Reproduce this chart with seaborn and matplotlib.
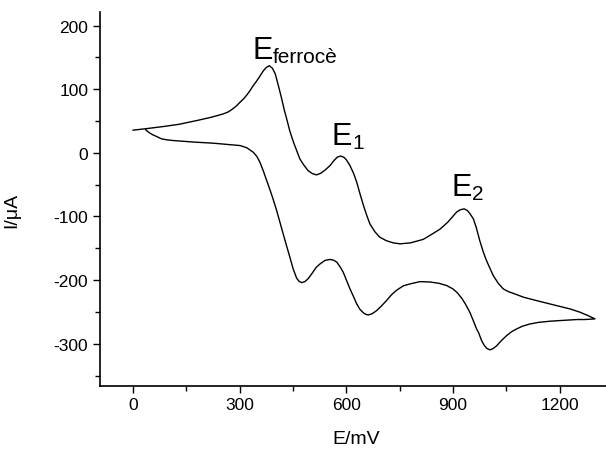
import pandas as pd
import seaborn as sns
import matplotlib.pyplot as plt
from matplotlib.ticker import MultipleLocator

# forward scan (E increasing)
fwd_E = [0, 36, 85, 130, 179, 220, 254, 268, 280, 291, 301, 311, 320, 329, 338, 345, 355, 365,
         374, 383, 392, 400, 409, 418, 425, 432, 441, 451, 460, 469, 480, 492, 504, 516, 528,
         540, 554, 565, 575, 584, 593, 600, 610, 620, 629, 638, 648, 657, 666, 680, 694,
         712, 732, 751, 780, 816, 840, 863, 885, 901, 910, 920, 931, 940, 948, 957, 965,
         975, 985, 993, 1000, 1013, 1027, 1041, 1055, 1070, 1098, 1140, 1191, 1230, 1257,
         1280, 1299]
fwd_I = [35.7, 38, 41.4, 45, 50.8, 56, 61.3, 64.5, 69, 74, 79.7, 85, 91, 98, 105.8, 111, 119, 128,
         134, 137, 133, 124, 105, 85, 68, 53.5, 34, 17, 4, -9.4, -19, -27.8, -32.5, -34.6, -32,
         -27, -20, -12, -6.5, -5, -7, -11, -20, -32, -46, -64, -82.8, -98, -111.6, -124, -132.6,
         -138, -141.5, -143, -141.5, -136, -128, -120, -109, -98.6, -93, -89.5, -88, -90.5, -96, -103.8, -117,
         -138, -156, -168, -177, -193, -205, -213.8, -218, -221, -226.9, -233, -240, -245.5, -250.5,
         -256, -261]

# reverse scan (E decreasing)
rev_E = [1299, 1270, 1248, 1210, 1173, 1140, 1116, 1095, 1079, 1065, 1051, 1036, 1023, 1013,
         1004, 995, 988, 980, 972, 966, 957, 947, 935, 925, 912, 900, 882, 860, 835, 807,
         779, 760, 741, 727, 713, 698, 685, 672, 662, 655, 648, 638, 629, 620, 610, 600,
         591, 582, 573, 565, 554, 540, 526, 515, 504, 492, 483, 474, 467, 460, 450, 441,
         427, 413, 404, 394, 385, 376, 366, 357, 348, 338, 320, 301, 260, 226, 170, 113,
         95, 80, 67, 57, 46, 36]
rev_I = [-261, -262, -262, -263.3, -264.6, -266.5, -269, -272.5, -276.7, -281, -287, -295, -303, -307.5,
         -309.7, -307.5, -303, -295, -283, -276.7, -264, -250.5, -238, -229, -220, -214, -208.6, -205, -203, -202.4,
         -206, -209, -216, -223, -232, -241, -248, -253, -254.7, -254, -251.6, -246, -237.4, -226, -213.8, -200,
         -187.6, -179, -171.8, -169, -167.5, -169, -174.5, -180, -189, -198, -202.5, -204, -202, -197, -182, -164,
         -137, -109, -91, -73, -58, -44, -28, -15, -5.5, 1, 8, 11.5, 13.5, 15.2, 17, 19.4,
         20.5, 22, 25.6, 28, 31.5, 36]

df = pd.DataFrame({"E": fwd_E + rev_E, "I": fwd_I + rev_I})

plt.rcParams['font.family'] = ['Liberation Sans', 'DejaVu Sans']
plt.rcParams['axes.unicode_minus'] = False
fig = plt.figure(figsize=(6.06, 4.52), dpi=100)
ax = fig.add_axes([0.165, 0.1445, 0.835, 0.8275])

sns.lineplot(x="E", y="I", data=df, sort=False, estimator=None, color='black', lw=1.0, ax=ax)

ax.set_xlim(-93, 1330)
ax.set_ylim(-366, 222)
ax.xaxis.set_major_locator(MultipleLocator(300))
ax.xaxis.set_minor_locator(MultipleLocator(150))
ax.yaxis.set_major_locator(MultipleLocator(100))
ax.yaxis.set_minor_locator(MultipleLocator(50))
ax.tick_params(which='major', length=5, width=1, labelsize=12.5, direction='out')
ax.tick_params(which='minor', length=3.5, width=1, direction='out')
for s in ['top', 'right']:
    ax.spines[s].set_visible(False)
for s in ['left', 'bottom']:
    ax.spines[s].set_linewidth(1.2)

ax.set_xlabel('E/mV', fontsize=14)
ax.set_ylabel('I/\u03bcA', fontsize=14)
ax.xaxis.set_label_coords(0.506, -0.118)
ax.yaxis.set_label_coords(-0.158, 0.472)

# peak labels
labels = [(335, 149, 'ferroc\u00e8'), (559, 14, '1'), (896, -66, '2')]
for x, y, sub in labels:
    ax.text(x, y, 'E', fontsize=22, ha='left', va='baseline')
    ax.annotate(sub, xy=(x, y), xytext=(14.8, -3), textcoords='offset points',
                fontsize=15, ha='left', va='baseline')

fig.savefig('out.png', dpi=100)
